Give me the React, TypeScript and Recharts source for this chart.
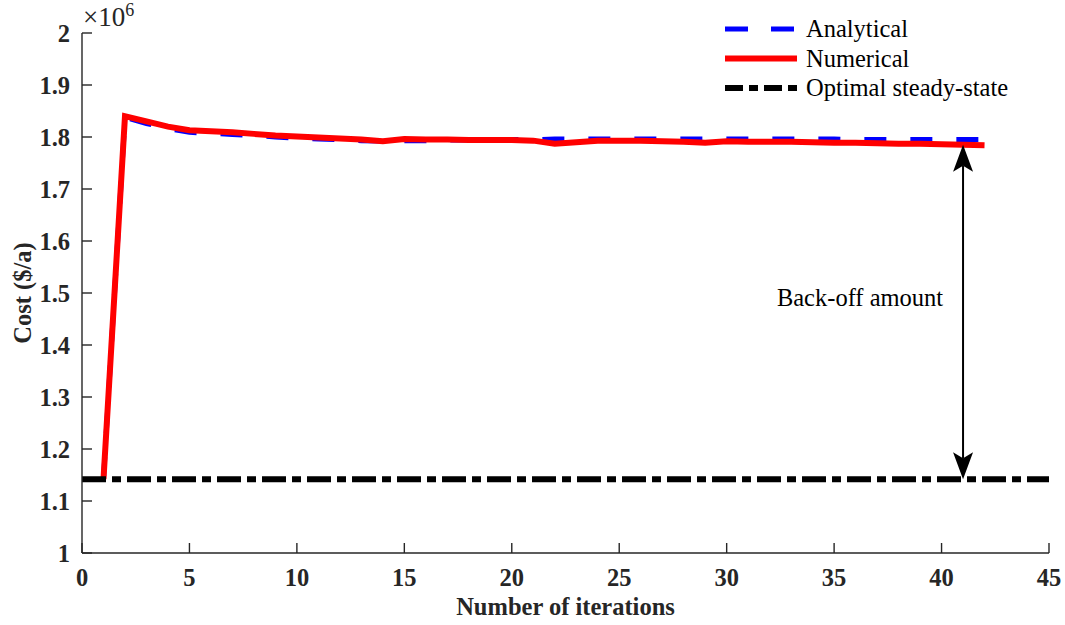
import React from 'react';
import { LineChart, Line, XAxis, YAxis, ReferenceLine, Legend } from 'recharts';

// Iteration index and the cost per iteration (in units of 10^6 $/a)
const iterations = [
  1, 2, 3, 4, 5, 6, 7, 8, 9, 10, 11, 12, 13, 14, 15, 16, 17, 18, 19, 20, 21,
  22, 23, 24, 25, 26, 27, 28, 29, 30, 31, 32, 33, 34, 35, 36, 37, 38, 39, 40, 41, 42,
];

const analyticalCost = [
  1.142, 1.838, 1.826, 1.816, 1.809, 1.807, 1.805, 1.803, 1.8, 1.798, 1.796, 1.795, 1.793, 1.792,
  1.793, 1.793, 1.794, 1.794, 1.795, 1.795, 1.795, 1.796, 1.796, 1.796, 1.796, 1.796, 1.796, 1.796,
  1.796, 1.796, 1.796, 1.796, 1.796, 1.796, 1.796, 1.795, 1.795, 1.795, 1.795, 1.795, 1.795, 1.795,
];

const numericalCost = [
  1.142, 1.84, 1.83, 1.82, 1.813, 1.811, 1.809, 1.806, 1.803, 1.801, 1.799, 1.797, 1.795, 1.792,
  1.796, 1.795, 1.795, 1.794, 1.794, 1.794, 1.793, 1.787, 1.79, 1.793, 1.793, 1.793, 1.792, 1.791,
  1.789, 1.792, 1.791, 1.791, 1.791, 1.79, 1.789, 1.789, 1.788, 1.787, 1.787, 1.786, 1.785, 1.784,
];

const optimalSteadyState = 1.1417;
const backOffIteration = 41;

const xTicks = [0, 5, 10, 15, 20, 25, 30, 35, 40, 45];
const yTicks = [1, 1.1, 1.2, 1.3, 1.4, 1.5, 1.6, 1.7, 1.8, 1.9, 2];

const costData = iterations.map((iter, i) => ({
  iter,
  analytical: analyticalCost[i],
  numerical: numericalCost[i],
}));

const SERIF = "'Liberation Serif', 'Times New Roman', Times, serif";
const AXIS_COLOR = '#262626';
const TICK_LEN = 10;
const FONT_SIZE = 24.5;

const legendItems = [
  { label: 'Analytical', color: '#0000ff', width: 5, dash: '23 23' },
  { label: 'Numerical', color: '#ff0000', width: 6, dash: undefined },
  { label: 'Optimal steady-state', color: '#000000', width: 6, dash: '18 6 9 6' },
];

const XTick = ({ x, y, payload }: any) => (
  <g>
    <line x1={x} y1={y} x2={x} y2={y - TICK_LEN} stroke={AXIS_COLOR} strokeWidth={1.4} />
    <text x={x} y={y + 33} textAnchor="middle" fontFamily={SERIF} fontWeight="bold" fontSize={FONT_SIZE} fill={AXIS_COLOR}>
      {payload.value}
    </text>
  </g>
);

const YTick = ({ x, y, payload }: any) => (
  <g>
    <line x1={x} y1={y} x2={x + TICK_LEN} y2={y} stroke={AXIS_COLOR} strokeWidth={1.4} />
    <text x={x - 12} y={y} dy="0.35em" textAnchor="end" fontFamily={SERIF} fontWeight="bold" fontSize={FONT_SIZE} fill={AXIS_COLOR}>
      {Number(payload.value.toFixed(1)).toString()}
    </text>
  </g>
);

// y-axis title plus the MATLAB-style exponent above the axis
const YAxisTitle = ({ viewBox }: any) => {
  const { x, y, width, height } = viewBox;
  const cx = x + 22;
  const cy = y + height / 2;
  return (
    <g>
      <text
        x={cx}
        y={cy}
        dy="0.35em"
        transform={`rotate(-90, ${cx}, ${cy})`}
        textAnchor="middle"
        fontFamily={SERIF}
        fontWeight="bold"
        fontSize={FONT_SIZE}
        fill={AXIS_COLOR}
      >
        Cost ($/a)
      </text>
      <text x={x + width + 1} y={y - 7} fontFamily={SERIF} fontSize={27} fill={AXIS_COLOR}>
        ×10
        <tspan dx={0} dy={-10} fontSize={18}>
          6
        </tspan>
      </text>
    </g>
  );
};

const XAxisTitle = ({ viewBox }: any) => {
  const { x, y, width } = viewBox;
  return (
    <text x={x + width / 2} y={y + 62} textAnchor="middle" fontFamily={SERIF} fontWeight="bold" fontSize={FONT_SIZE} fill={AXIS_COLOR}>
      Number of iterations
    </text>
  );
};

const renderLegend = () => (
  <svg width={340} height={95} style={{ display: 'block' }}>
    {legendItems.map((item, i) => {
      const rowY = 17 + i * 29.5;
      return (
        <g key={item.label}>
          <line
            x1={7}
            y1={rowY}
            x2={79}
            y2={rowY}
            stroke={item.color}
            strokeWidth={item.width}
            strokeDasharray={item.dash}
          />
          <text x={88} y={rowY + 8} fontFamily={SERIF} fontSize={FONT_SIZE} fill="#000">
            {item.label}
          </text>
        </g>
      );
    })}
  </svg>
);

// double-headed arrow marking the back-off between the converged cost and the optimum
const BackOffArrow = (props: any) => {
  const { x1, y1, y2 } = props;
  const head = 27;
  const half = 10;
  const notch = 6;
  const midY = (y1 + y2) / 2;
  return (
    <g>
      <line x1={x1} y1={y1 + head - notch} x2={x1} y2={y2 - head + notch} stroke="#000" strokeWidth={2} />
      <polygon
        points={`${x1},${y1} ${x1 - half},${y1 + head} ${x1},${y1 + head - notch} ${x1 + half},${y1 + head}`}
        fill="#000"
      />
      <polygon
        points={`${x1},${y2} ${x1 - half},${y2 - head} ${x1},${y2 - head + notch} ${x1 + half},${y2 - head}`}
        fill="#000"
      />
      <text x={x1 - 103} y={midY - 6} textAnchor="middle" fontFamily={SERIF} fontSize={FONT_SIZE} fill="#000">
        Back-off amount
      </text>
    </g>
  );
};

const App: React.FC = () => {
  const arrowTop = numericalCost[iterations.indexOf(backOffIteration)];
  return (
    <div style={{ position: 'absolute', left: 0, top: 0, width: 1065, height: 625, background: '#fff' }}>
      <LineChart width={1065} height={625} data={costData} margin={{ top: 33, right: 16, left: 0, bottom: 0 }}>
        <XAxis
          dataKey="iter"
          type="number"
          domain={[0, 45]}
          ticks={xTicks}
          interval={0}
          height={72}
          tickSize={0}
          tickMargin={0}
          tickLine={false}
          axisLine={{ stroke: AXIS_COLOR, strokeWidth: 1.4 }}
          tick={<XTick />}
          label={<XAxisTitle />}
        />
        <YAxis
          type="number"
          domain={[1, 2]}
          ticks={yTicks}
          interval={0}
          width={82}
          tickSize={0}
          tickMargin={0}
          tickLine={false}
          axisLine={{ stroke: AXIS_COLOR, strokeWidth: 1.4 }}
          tick={<YTick />}
          label={<YAxisTitle />}
        />
        <Line
          dataKey="analytical"
          type="linear"
          stroke="#0000ff"
          strokeWidth={5}
          strokeDasharray="22 24"
          dot={false}
          activeDot={false}
          isAnimationActive={false}
        />
        <Line
          dataKey="numerical"
          type="linear"
          stroke="#ff0000"
          strokeWidth={6}
          dot={false}
          activeDot={false}
          isAnimationActive={false}
        />
        <ReferenceLine
          y={optimalSteadyState}
          stroke="#000"
          strokeWidth={6}
          strokeDasharray="24 6 9 6"
        />
        <ReferenceLine
          segment={[
            { x: backOffIteration, y: arrowTop },
            { x: backOffIteration, y: optimalSteadyState },
          ]}
          shape={<BackOffArrow />}
        />
        <Legend
          layout="vertical"
          align="center"
          verticalAlign="middle"
          wrapperStyle={{ top: 12, left: 718, width: 340, height: 95 }}
          content={renderLegend}
        />
      </LineChart>
    </div>
  );
};

export default App;
